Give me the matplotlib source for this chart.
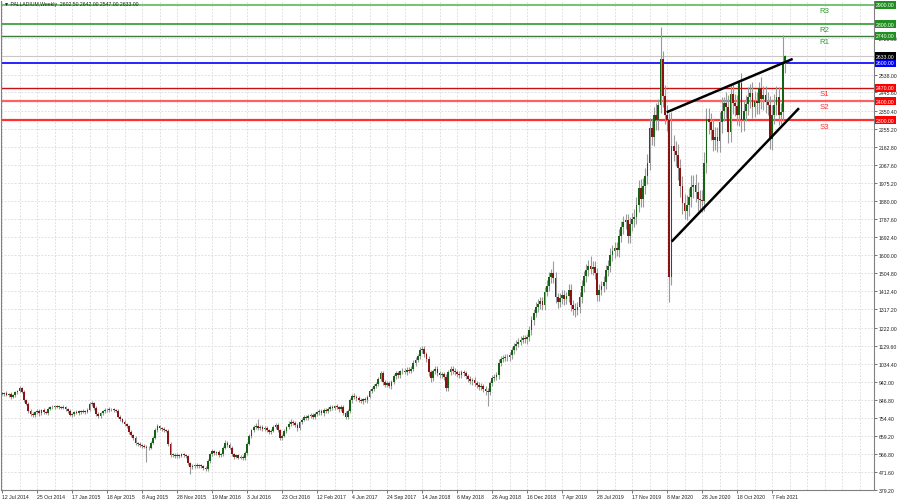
import matplotlib.pyplot as plt
import numpy as np

plt.rcParams['font.family'] = ['Liberation Sans', 'DejaVu Sans']

# Weekly candles (open = previous close)
first_open = 880
closes = [
    878, 882, 875, 880, 862, 872, 888, 895, 909, 890, 845, 826, 790, 775, 768, 782,
    790, 778, 795, 785, 780, 800, 812, 808, 815, 810, 812, 806, 810, 798, 790, 770,
    772, 785, 780, 788, 785, 790, 786, 795, 825, 831, 805, 775, 762, 778, 790, 797,
    793, 800, 798, 795, 790, 760, 748, 735, 720, 710, 680, 665, 650, 622, 618, 612,
    608, 605, 596, 600, 625, 650, 690, 712, 700, 695, 690, 688, 620, 560, 562, 555,
    562, 558, 565, 560, 555, 520, 498, 505, 510, 502, 508, 505, 495, 488, 530, 565,
    582, 570, 575, 560, 565, 600, 625, 615, 600, 565, 552, 560, 548, 552, 545, 570,
    620, 660, 690, 705, 712, 700, 706, 695, 702, 690, 680, 688, 705, 718, 690, 650,
    662, 685, 705, 720, 735, 728, 718, 700, 730, 745, 760, 752, 765, 770, 758, 775,
    782, 790, 778, 795, 788, 800, 812, 805, 815, 808, 798, 810, 780, 760, 790, 845,
    870, 862, 855, 848, 840, 850, 845, 865, 895, 905, 920, 930, 955, 985, 940, 925,
    935, 920, 940, 970, 985, 975, 995, 1000, 992, 1005, 998, 1010, 1040, 1055, 1075, 1105,
    1110, 1085, 1060, 990, 960, 995, 1010, 985, 975, 980, 965, 910, 990, 1010, 1000, 990,
    982, 975, 990, 985, 970, 955, 945, 950, 935, 925, 915, 920, 905, 895, 890, 935,
    960, 968, 975, 1040, 1060, 1065, 1072, 1068, 1080, 1105, 1125, 1140, 1150, 1160, 1168, 1162,
    1172, 1210, 1260, 1300, 1330, 1345, 1360, 1340, 1410, 1440, 1485, 1505, 1480, 1380, 1356, 1375,
    1390, 1370, 1385, 1420, 1340, 1320, 1315, 1330, 1380, 1440, 1490, 1520, 1545, 1530, 1540, 1505,
    1395, 1420, 1440, 1460, 1520, 1545, 1600, 1620, 1635, 1625, 1700, 1745, 1770, 1780, 1700, 1760,
    1785, 1800, 1860, 1950, 1890, 1960, 2010, 2080, 2260, 2215, 2330, 2300, 2380, 2618, 2426, 2330,
    2300, 1486, 2166, 2140, 2120, 2050, 1960, 1870, 1830, 1860, 1900, 1955, 1965, 1930, 1890, 1885,
    1880, 2080, 2306, 2290, 2250, 2200, 2215, 2195, 2290, 2350, 2390, 2370, 2240, 2436, 2390, 2375,
    2330, 2495, 2300, 2350, 2385, 2420, 2440, 2370, 2400, 2390, 2470, 2410, 2430, 2395, 2380, 2203,
    2330, 2380, 2420, 2330, 2343, 2602.5, 2633,
]
hi_wick = [
    8, 6, 10, 5, 9, 7, 8, 6, 10, 7, 9, 8, 10, 8, 7, 6,
    8, 10, 6, 9, 7, 8, 6, 9, 5, 8, 7, 6, 9, 8, 7, 10,
    7, 6, 9, 8, 6, 10, 7, 8, 9, 12, 8, 10, 7, 9, 6, 8,
    7, 9, 6, 8, 7, 9, 8, 6, 10, 7, 8, 9, 7, 8, 6, 9,
    7, 8, 6, 9, 10, 8, 12, 9, 7, 8, 10, 6, 9, 8, 7, 9,
    8, 6, 9, 7, 8, 6, 7, 8, 6, 9, 7, 8, 6, 9, 10, 8,
    9, 7, 8, 10, 6, 9, 12, 8, 7, 9, 6, 8, 7, 9, 8, 10,
    9, 10, 8, 12, 15, 36, 10, 9, 8, 11, 7, 9, 10, 8, 9, 7,
    8, 10, 9, 18, 15, 9, 8, 10, 9, 8, 10, 9, 11, 8, 10, 9,
    10, 8, 11, 9, 10, 12, 9, 11, 8, 10, 9, 12, 10, 9, 11, 12,
    10, 12, 9, 11, 10, 9, 12, 10, 11, 9, 12, 10, 11, 12, 10, 9,
    11, 12, 10, 13, 12, 11, 10, 13, 12, 11, 14, 12, 13, 15, 12, 18,
    20, 15, 13, 14, 12, 13, 15, 12, 14, 13, 12, 15, 14, 12, 13, 14,
    13, 15, 12, 14, 13, 12, 14, 13, 15, 12, 14, 13, 12, 15, 14, 13,
    15, 14, 16, 18, 15, 14, 16, 15, 18, 17, 16, 20, 18, 17, 19, 18,
    20, 22, 24, 21, 25, 28, 22, 24, 26, 30, 28, 25, 64, 30, 25, 28,
    26, 30, 25, 28, 27, 24, 30, 26, 28, 30, 25, 32, 30, 49, 28, 30,
    28, 30, 26, 32, 30, 28, 35, 30, 32, 34, 36, 30, 35, 32, 34, 36,
    35, 38, 40, 42, 45, 38, 42, 45, 50, 48, 40, 60, 30, 166, 40, 60,
    50, 40, 177, 60, 50, 55, 48, 50, 45, 52, 48, 60, 50, 55, 48, 50,
    52, 55, 60, 58, 50, 55, 48, 52, 55, 70, 30, 55, 60, 50, 55, 48,
    55, 10, 50, 52, 48, 55, 50, 58, 52, 48, 30, 55, 50, 48, 52, 45,
    50, 58, 58, 52, 45, 143, 9,
]
lo_wick = [
    6, 8, 7, 10, 8, 6, 7, 9, 6, 8, 10, 7, 9, 12, 10, 8,
    9, 12, 7, 10, 8, 9, 7, 8, 10, 6, 9, 8, 7, 10, 9, 8,
    10, 8, 7, 9, 11, 8, 10, 7, 6, 8, 9, 12, 10, 8, 7, 9,
    8, 7, 9, 10, 8, 9, 8, 10, 9, 8, 10, 9, 11, 10, 9, 8,
    10, 9, 71, 10, 8, 9, 8, 10, 9, 8, 7, 10, 12, 10, 9, 8,
    9, 10, 8, 9, 10, 12, 36, 8, 10, 9, 8, 9, 10, 12, 8, 9,
    8, 10, 9, 8, 10, 7, 9, 10, 8, 9, 10, 8, 9, 10, 8, 9,
    10, 8, 9, 8, 10, 9, 8, 10, 9, 8, 10, 9, 8, 9, 10, 12,
    10, 9, 8, 10, 9, 11, 10, 14, 9, 10, 8, 11, 9, 10, 9, 11,
    10, 11, 9, 12, 10, 9, 11, 10, 12, 9, 11, 10, 13, 12, 10, 11,
    12, 10, 11, 12, 10, 13, 11, 12, 10, 11, 12, 13, 11, 12, 14, 12,
    13, 12, 14, 11, 13, 12, 14, 13, 12, 14, 13, 12, 13, 14, 12, 13,
    14, 15, 16, 20, 18, 14, 15, 16, 14, 15, 16, 18, 15, 14, 16, 15,
    16, 14, 15, 16, 14, 15, 16, 18, 15, 16, 14, 17, 16, 20, 75, 16,
    18, 16, 17, 18, 16, 17, 18, 16, 17, 18, 19, 18, 20, 19, 18, 20,
    22, 20, 24, 26, 22, 25, 24, 26, 25, 24, 26, 28, 25, 28, 30, 26,
    28, 30, 26, 28, 32, 30, 35, 28, 30, 28, 30, 32, 28, 30, 32, 30,
    32, 34, 30, 32, 35, 30, 34, 32, 35, 30, 34, 32, 36, 34, 40, 35,
    36, 38, 40, 38, 42, 40, 45, 42, 40, 45, 48, 50, 52, 40, 55, 50,
    55, 130, 40, 50, 55, 60, 58, 55, 43, 50, 55, 52, 58, 55, 60, 52,
    55, 50, 55, 60, 52, 58, 55, 60, 58, 55, 52, 58, 60, 55, 58, 52,
    55, 58, 60, 55, 52, 58, 55, 60, 52, 55, 58, 52, 55, 58, 52, 50,
    55, 50, 52, 55, 50, 45, 55,
]

date_labels = ['12 Jul 2014', '25 Oct 2014', '17 Jan 2015', '18 Apr 2015', '8 Aug 2015',
               '28 Nov 2015', '19 Mar 2016', '3 Jul 2016', '23 Oct 2016', '12 Feb 2017',
               '4 Jun 2017', '24 Sep 2017', '14 Jan 2018', '6 May 2018', '26 Aug 2018',
               '16 Dec 2018', '7 Apr 2019', '28 Jul 2019', '17 Nov 2019', '8 Mar 2020',
               '28 Jun 2020', '18 Oct 2020', '7 Feb 2021']
price_ticks = [379.20, 471.60, 566.80, 659.20, 754.40, 846.80, 942.00, 1034.40, 1129.60,
               1222.00, 1317.20, 1412.40, 1504.80, 1600.00, 1692.40, 1787.60, 1880.00,
               1975.20, 2067.60, 2162.80, 2255.20, 2350.40, 2445.60, 2538.00, 2725.60]

# support / resistance levels
level_prices = [2900, 2800, 2740, 2600, 2470, 2400, 2300]
level_names = ['R3', 'R2', 'R1', '', 'S1', 'S2', 'S3']
level_colors = ['#72c472', '#2e9a2e', '#3d7a3d', '#0000ff', '#c81010', '#ff6060', '#ff3030']
level_widths = [1.4, 1.2, 1.0, 1.2, 1.0, 1.6, 1.6]
box_colors = ['#1f8f1f', '#1f8f1f', '#1f8f1f', '#0000ff', '#ff0000', '#ff0000', '#ff0000']
last_price = 2633.0
title_text = 'PALLADIUM,Weekly  2602.50 2642.00 2547.00 2633.00'

# triangle trendlines (bar index, price)
upper_x = [303.8, 361.4]
upper_y = [2342, 2619]
lower_x = [306.1, 364.3]
lower_y = [1670, 2363]

closes = np.array(closes, dtype=float)
opens = np.concatenate([[first_open], closes[:-1]])
highs = np.maximum(opens, closes) + np.array(hi_wick)
lows = np.minimum(opens, closes) - np.array(lo_wick)
bars = np.arange(len(closes))

fig = plt.figure(figsize=(9, 5.02), dpi=100)
ax = fig.add_axes([1 / 900, 11 / 502, 873 / 900, 489 / 502])
ax.set_xlim(-0.5, -0.5 + 873 / 2.1875)
ax.set_ylim(379.2, 2920)

# Wicks and bodies
ax.vlines(bars, lows, highs, color='#9a9a9a', linewidth=0.8, zorder=2)
up = closes >= opens
body_colors = np.where(up, '#136313', '#8a1212')
heights = np.maximum(np.abs(closes - opens), 4)
ax.bar(bars, heights, bottom=np.minimum(opens, closes), width=0.82,
       color=body_colors, linewidth=0, zorder=2.2)

# Levels
ytr = ax.get_yaxis_transform()
for price, name, col, lw, bcol in zip(level_prices, level_names, level_colors, level_widths, box_colors):
    ax.axhline(price, color=col, linewidth=lw, zorder=1.5)
    if name:
        tcol = '#2e9a2e' if name.startswith('R') else '#ff3030'
        ax.text(0.938, price - 12, name, transform=ytr, color=tcol, fontsize=5.6,
                ha='left', va='top', zorder=4)
    ax.text(1.0025, price, '%.2f' % price, transform=ytr, color='white', fontsize=3.7,
            ha='left', va='center', clip_on=False, zorder=6,
            bbox=dict(boxstyle='square,pad=0.3', fc=bcol, ec='none'))
ax.axhline(last_price, color='#c8c8c8', linewidth=0.8, zorder=1.4)
ax.text(1.0025, last_price, '%.2f' % last_price, transform=ytr, color='white', fontsize=3.7,
        ha='left', va='center', clip_on=False, zorder=6,
        bbox=dict(boxstyle='square,pad=0.3', fc='black', ec='none'))

# Trendlines
ax.plot(upper_x, upper_y, color='black', linewidth=1.8, zorder=3, solid_capstyle='butt')
ax.plot(lower_x, lower_y, color='black', linewidth=1.8, zorder=3, solid_capstyle='butt')

# Axes, ticks and grid
ax.yaxis.tick_right()
ax.set_yticks(price_ticks)
ax.set_yticklabels(['%.2f' % p for p in price_ticks])
ax.set_xticks(np.arange(len(date_labels)) * 16)
ax.set_xticklabels(date_labels, ha='left')
ax.set_xticks(np.arange(0, 400, 8), minor=True)
ax.tick_params(axis='both', which='major', labelsize=3.7, length=2, width=0.6,
               color='#606060', pad=1.2, labelcolor='#202020')
ax.tick_params(axis='x', which='minor', length=0)
ax.grid(True, which='both', axis='x', color='#d8d8d8', linestyle=(0, (2, 2)), linewidth=0.6)
ax.grid(True, which='major', axis='y', color='#d8d8d8', linestyle=(0, (2, 2)), linewidth=0.6)
ax.set_axisbelow(True)
for side in ['left', 'bottom', 'right']:
    ax.spines[side].set_color('#808080')
    ax.spines[side].set_linewidth(0.8)
ax.spines['top'].set_visible(False)

ax.text(0.004, 0.999, '\u25bc ' + title_text, transform=ax.transAxes, fontsize=3.7,
        ha='left', va='top', color='#202020', zorder=6)

fig.savefig('out.png', dpi=100)
